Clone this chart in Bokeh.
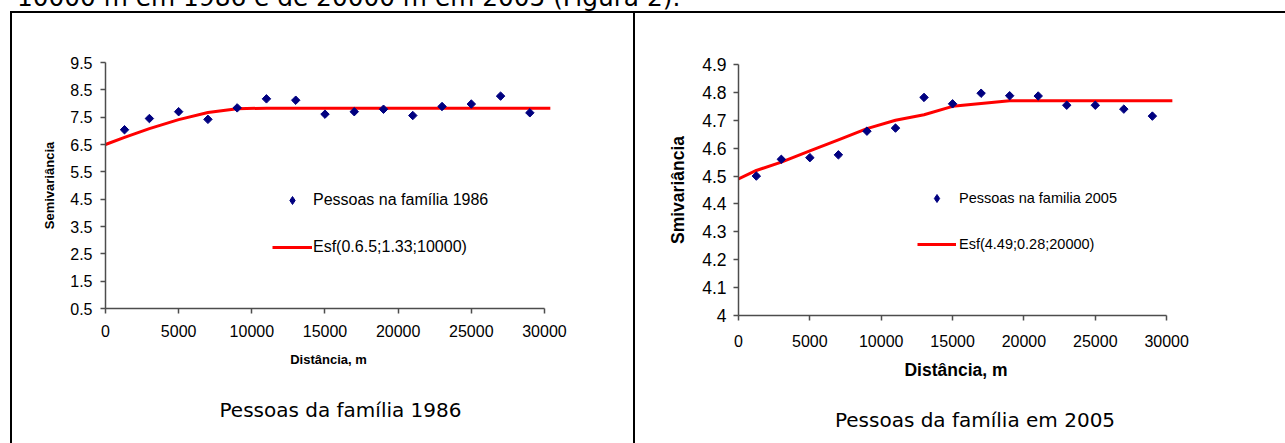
from bokeh.plotting import figure
from bokeh.models import (Div, Spacer, Legend, LegendItem, FixedTicker,
                          NumeralTickFormatter, Range1d, ColumnDataSource)
from bokeh.layouts import row, column
from bokeh.embed import file_html
from bokeh.resources import INLINE

# ---------------- data ----------------
top_text = "10000 m em 1986 e de 20000 m em 2005 (Figura 2)."

x_ticks = [0, 5000, 10000, 15000, 20000, 25000, 30000]

# Panel 1 (1986)
lag1 = [1300, 3000, 5000, 7000, 9000, 11000, 13000, 15000, 17000, 19000,
        21000, 23000, 25000, 27000, 29000]
semi1 = [7.04, 7.45, 7.70, 7.42, 7.84, 8.17, 8.12, 7.61, 7.70, 7.79,
         7.56, 7.89, 7.98, 8.27, 7.66]
model1_x = [0, 1300, 3000, 5000, 7000, 9000, 11000, 30400]
model1_y = [6.50, 6.76, 7.08, 7.41, 7.67, 7.81, 7.83, 7.83]
y1_ticks = [0.5, 1.5, 2.5, 3.5, 4.5, 5.5, 6.5, 7.5, 8.5, 9.5]
series1_name = "Pessoas na família 1986"
model1_name = "Esf(0.6.5;1.33;10000)"
ylabel1 = "Semivariância"
caption1 = "Pessoas da família 1986"

# Panel 2 (2005)
lag2 = [1250, 3000, 5000, 7000, 9000, 11000, 13000, 15000, 17000, 19000,
        21000, 23000, 25000, 27000, 29000]
semi2 = [4.500, 4.560, 4.566, 4.576, 4.661, 4.672, 4.782, 4.759, 4.797, 4.788,
         4.787, 4.754, 4.754, 4.740, 4.715]
model2_x = [0, 1250, 3000, 5000, 7000, 9000, 11000, 13000, 15000, 17000,
            19000, 21000, 30400]
model2_y = [4.49, 4.52, 4.55, 4.59, 4.63, 4.67, 4.70, 4.72, 4.75, 4.76,
            4.77, 4.77, 4.77]
y2_ticks = [4.0, 4.1, 4.2, 4.3, 4.4, 4.5, 4.6, 4.7, 4.8, 4.9]
series2_name = "Pessoas na familia 2005"
model2_name = "Esf(4.49;0.28;20000)"
ylabel2 = "Smivariância"
caption2 = "Pessoas da família em 2005"

xlabel = "Distância, m"

# ---------------- styles ----------------
NAVY = "#000080"
RED = "#FF0000"
AXIS = "#4d4d4d"
ARIAL = "Liberation Sans"
FIG_H = 380
CAP_H = 50


def make_panel(lag, semi, mx, my, y_ticks, y_range, ser_name, mod_name,
               ylabel, caption, cfg):
    p = figure(width=cfg["width"], height=FIG_H, output_backend="svg",
               toolbar_location=None,
               x_range=Range1d(0, 30480), y_range=Range1d(*y_range),
               min_border_left=cfg["bl"], min_border_right=cfg["br"],
               min_border_top=cfg["bt"], min_border_bottom=cfg["bb"])
    p.outline_line_color = None
    p.grid.visible = False
    p.background_fill_color = "white"
    p.border_fill_color = "white"

    src = ColumnDataSource(dict(x=lag, y=semi))
    r_line = p.line(mx, my, line_color=RED, line_width=3)
    p.scatter("x", "y", source=src, marker="square", angle=0.785398,
              size=6, fill_color=NAVY, line_color=NAVY)
    r_leg = p.scatter("x", "y", source=src, marker="diamond", size=9,
                      fill_color=NAVY, line_color=NAVY)
    r_leg.visible = False

    for ax in (p.xaxis[0], p.yaxis[0]):
        ax.axis_line_color = AXIS
        ax.axis_line_width = 1.5
        ax.major_tick_line_color = AXIS
        ax.major_tick_line_width = 1.5
        ax.major_tick_in = 0
        ax.major_tick_out = 5
        ax.minor_tick_line_color = None
        ax.major_label_text_font = ARIAL
        ax.major_label_text_color = "black"
        ax.axis_label_text_font = ARIAL
        ax.axis_label_text_font_style = "bold"
        ax.axis_label_text_color = "black"
        ax.axis_label_text_font_size = cfg["title_fs"]

    xa = p.xaxis[0]
    xa.ticker = FixedTicker(ticks=x_ticks)
    xa.bounds = (0, 30000)
    xa.major_label_text_font_size = "16px"
    xa.major_label_standoff = cfg["xls"]
    xa.axis_label = xlabel
    xa.axis_label_standoff = cfg["xas"]

    ya = p.yaxis[0]
    ya.ticker = FixedTicker(ticks=y_ticks)
    ya.formatter = NumeralTickFormatter(format="0.[0]")
    ya.major_label_text_font_size = cfg["ytick_fs"]
    ya.major_label_standoff = cfg["yls"]
    ya.axis_label = ylabel
    ya.axis_label_standoff = cfg["yas"]

    leg = Legend(items=[LegendItem(label=ser_name, renderers=[r_leg]),
                        LegendItem(label=mod_name, renderers=[r_line])],
                 location=cfg["leg_loc"], orientation="vertical",
                 padding=0, margin=0, spacing=cfg["leg_sp"],
                 glyph_width=cfg["gw"], glyph_height=20, label_height=20,
                 label_standoff=cfg["lso"], border_line_color=None,
                 background_fill_alpha=0, label_text_font=ARIAL,
                 label_text_font_size=cfg["leg_fs"], label_text_color="black")
    p.add_layout(leg)

    dx, dy = cfg["cap"]
    cap = Div(text=('<div style="position:relative;left:%dpx;top:%dpx;width:%dpx;'
                    "text-align:center;font-family:'DejaVu Sans';font-size:20px;"
                    'line-height:20px;white-space:nowrap;color:black">%s</div>'
                    % (dx, dy, cfg["width"], caption)),
              width=cfg["width"], height=CAP_H, margin=0,
              styles={"overflow": "hidden", "background-color": "white"})
    return column(p, cap)


cfg1 = dict(width=621, bl=93, br=82, bt=49, bb=FIG_H - 49 - 246,
            title_fs="13px", ytick_fs="16px", xls=11, xas=12, yls=8, yas=10,
            leg_loc=(167, 51), leg_sp=27, gw=40, lso=1, leg_fs="16px",
            cap=(18, 7))
cfg2 = dict(width=650, bl=103, br=112, bt=51, bb=FIG_H - 51 - 251,
            title_fs="17.5px", ytick_fs="17.5px", xls=14, xas=10, yls=7, yas=11,
            leg_loc=(179, 61), leg_sp=26, gw=39, lso=3, leg_fs="14.5px",
            cap=(15, 17))

p1 = make_panel(lag1, semi1, model1_x, model1_y, y1_ticks, (0.5, 9.5),
                series1_name, model1_name, ylabel1, caption1, cfg1)
p2 = make_panel(lag2, semi2, model2_x, model2_y, y2_ticks, (4.0, 4.9),
                series2_name, model2_name, ylabel2, caption2, cfg2)

top = Div(text=('<div style="position:relative;left:17px;top:-14px;'
                "font-family:'DejaVu Sans';font-size:24.8px;line-height:24px;"
                'white-space:nowrap;color:black">' + top_text + '</div>'),
          width=1285, height=11, margin=0,
          styles={"overflow": "hidden"})
hline = Div(text="", width=1275, height=2, margin=0,
            styles={"background-color": "black"})
vline1 = Div(text="", width=2, height=430, margin=0,
             styles={"background-color": "black"})
vline2 = Div(text="", width=2, height=430, margin=0,
             styles={"background-color": "black"})

layout = column(top,
                row(Spacer(width=10, height=2), hline),
                row(Spacer(width=10, height=430), vline1, p1, vline2, p2))

open("out.html", "w").write(file_html(layout, INLINE))
